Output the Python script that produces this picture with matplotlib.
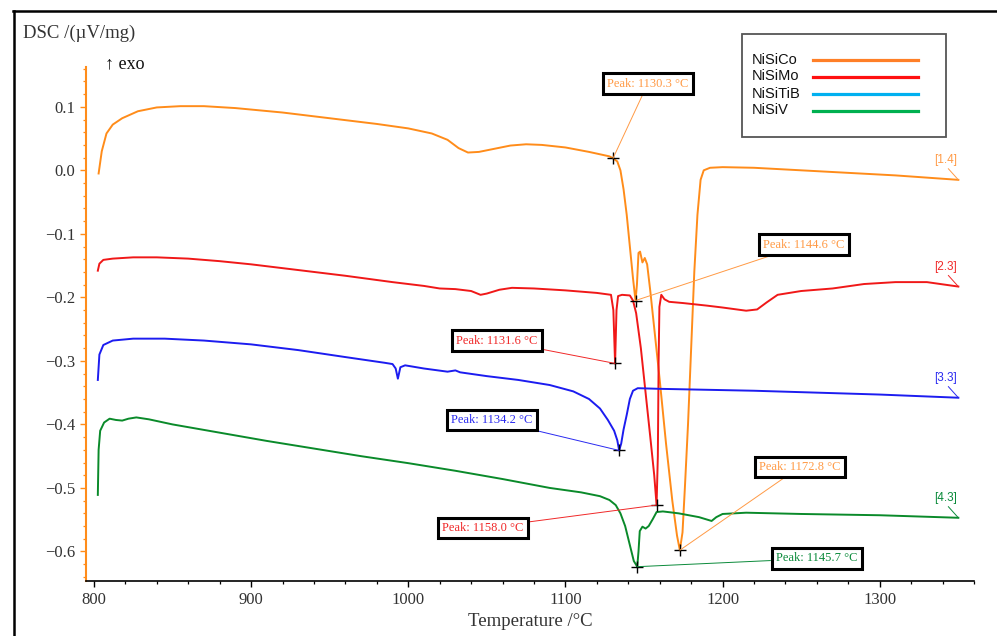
import numpy as np
import matplotlib
matplotlib.use("Agg")
import matplotlib.pyplot as plt
from matplotlib.lines import Line2D
from matplotlib.patches import Rectangle
from matplotlib.ticker import MultipleLocator, FuncFormatter

# NiSiCo
co_t = [803, 805, 808, 812, 818, 828, 840, 855, 870, 890, 920, 950, 980, 1000, 1015, 1025,
        1032, 1038, 1045, 1055, 1065, 1075, 1085, 1100, 1115, 1128, 1130.3, 1133, 1135, 1137,
        1139, 1141, 1143, 1144.6, 1145.5, 1146.5, 1147.5, 1149, 1150.5, 1152, 1154, 1157, 1160,
        1164, 1168, 1171, 1172.8, 1174.5, 1176, 1178, 1180, 1182, 1184, 1186, 1188, 1192, 1200,
        1220, 1250, 1280, 1310, 1350]
co_v = [-0.005, 0.03, 0.058, 0.072, 0.082, 0.093, 0.099, 0.101, 0.101, 0.098, 0.091, 0.082,
        0.073, 0.066, 0.058, 0.048, 0.035, 0.028, 0.029, 0.034, 0.039, 0.041, 0.040, 0.036,
        0.029, 0.022, 0.019, 0.014, 0.0, -0.03, -0.07, -0.12, -0.17, -0.205, -0.18, -0.13,
        -0.128, -0.145, -0.138, -0.148, -0.19, -0.26, -0.33, -0.43, -0.52, -0.575, -0.598,
        -0.57, -0.50, -0.40, -0.28, -0.16, -0.07, -0.015, 0.0, 0.004, 0.005, 0.004, 0.0,
        -0.004, -0.008, -0.015]

# NiSiMo
mo_t = [802.5, 803.5, 806, 812, 825, 840, 860, 880, 900, 930, 960, 990, 1010, 1020, 1030,
        1040, 1046, 1050, 1058, 1066, 1080, 1100, 1120, 1129, 1130.5, 1131.6, 1132.5, 1133.5,
        1136, 1141, 1143, 1145, 1148, 1151, 1154, 1156.5, 1158.0, 1158.8, 1159.3, 1159.8,
        1161, 1163, 1166, 1175, 1190, 1200, 1215, 1222, 1228, 1235, 1250, 1270, 1290, 1310,
        1330, 1350]
mo_v = [-0.158, -0.147, -0.141, -0.139, -0.137, -0.137, -0.139, -0.143, -0.148, -0.157,
        -0.166, -0.176, -0.182, -0.186, -0.187, -0.190, -0.196, -0.194, -0.188, -0.185,
        -0.186, -0.189, -0.193, -0.196, -0.22, -0.304, -0.22, -0.198, -0.196, -0.197, -0.205,
        -0.225, -0.28, -0.35, -0.42, -0.48, -0.527, -0.45, -0.30, -0.215, -0.196, -0.203,
        -0.207, -0.209, -0.213, -0.216, -0.221, -0.219, -0.208, -0.196, -0.190, -0.186,
        -0.179, -0.176, -0.176, -0.183]

# NiSiTiB
tib_t = [802.5, 803.5, 806, 812, 825, 845, 870, 900, 930, 960, 985, 990, 992, 993.4, 995,
         998, 1010, 1025, 1030, 1033, 1050, 1070, 1090, 1105, 1115, 1122, 1127, 1131, 1133,
         1134.2, 1135.5, 1137, 1139, 1141, 1143, 1146, 1160, 1180, 1220, 1260, 1300, 1350]
tib_v = [-0.33, -0.29, -0.275, -0.268, -0.265, -0.265, -0.268, -0.274, -0.283, -0.294,
         -0.303, -0.305, -0.312, -0.328, -0.31, -0.307, -0.312, -0.317, -0.315, -0.318,
         -0.324, -0.330, -0.338, -0.348, -0.360, -0.375, -0.393, -0.41, -0.425, -0.441,
         -0.43, -0.408, -0.385, -0.36, -0.347, -0.343, -0.344, -0.345, -0.347, -0.350,
         -0.353, -0.358]

# NiSiV
v_t = [802.5, 803, 804, 806.5, 810, 814, 818, 822, 827, 835, 850, 880, 910, 940, 970, 1000,
       1030, 1060, 1090, 1110, 1122, 1128, 1132, 1135, 1138, 1141, 1143.5, 1145.7, 1146.5,
       1147.3, 1149, 1151, 1153, 1155.6, 1158, 1162, 1172, 1185, 1193, 1196, 1200, 1215,
       1250, 1300, 1350]
v_v = [-0.511, -0.44, -0.41, -0.397, -0.391, -0.393, -0.394, -0.391, -0.389, -0.392, -0.400,
       -0.413, -0.426, -0.438, -0.450, -0.461, -0.473, -0.486, -0.500, -0.507, -0.513,
       -0.519, -0.527, -0.540, -0.560, -0.59, -0.615, -0.624, -0.60, -0.568, -0.561, -0.564,
       -0.560, -0.549, -0.538, -0.537, -0.540, -0.546, -0.552, -0.546, -0.541, -0.539,
       -0.541, -0.543, -0.547]

names = ["NiSiCo", "NiSiMo", "NiSiTiB", "NiSiV"]
end_tags = ["[1.4]", "[2.3]", "[3.3]", "[4.3]"]
curve_colors = ["#ff8c1a", "#f01818", "#1c1cf0", "#0a8a2a"]
text_colors = ["#ff9a45", "#f02828", "#2a2af0", "#0a8a3a"]
legend_colors = ["#ff7f27", "#ff1010", "#00b0f0", "#00b050"]

peak_t = [1130.3, 1144.6, 1131.6, 1134.2, 1158.0, 1172.8, 1145.7]
peak_v = [0.019, -0.205, -0.304, -0.441, -0.527, -0.598, -0.624]
peak_series = [0, 0, 1, 2, 1, 0, 3]
peak_label_xy = [(1152.4, 0.1365), (1251.7, -0.117), (1056.4, -0.268), (1053.2, -0.393),
                 (1047.5, -0.563), (1249.1, -0.467), (1259.9, -0.611)]

serif = ["Liberation Serif", "DejaVu Serif"]

fig = plt.figure(figsize=(9.97, 6.36), dpi=100)
ax = fig.add_axes([0.0863, 0.087, 0.8907, 0.808])

series = [(co_t, co_v), (mo_t, mo_v), (tib_t, tib_v), (v_t, v_v)]
for (t, v), c in zip(series, curve_colors):
    ax.plot(t, v, color=c, lw=1.4, solid_joinstyle="round")

# peak markers and labels
ax.plot(peak_t, peak_v, "+", color="black", ms=9, mew=1.0, zorder=5)
for t, v, s, xy in zip(peak_t, peak_v, peak_series, peak_label_xy):
    ax.annotate("Peak: %.1f °C" % t, xy=(t, v), xytext=xy, textcoords="data",
                ha="center", va="center", fontsize=9, family=serif,
                color=text_colors[s],
                bbox=dict(boxstyle="square,pad=0.35", fc="white", ec="black", lw=2.2),
                arrowprops=dict(arrowstyle="-", color=text_colors[s], lw=0.7,
                                shrinkA=0, shrinkB=0), zorder=6)

# end tags
for (t, v), tag, c in zip(series, end_tags, text_colors):
    ax.annotate(tag, xy=(t[-1], v[-1]), xytext=(1342, v[-1] + 0.022), textcoords="data",
                ha="center", va="bottom", fontsize=8.5, color=c, family=["Liberation Sans"],
                arrowprops=dict(arrowstyle="-", color=c, lw=0.7, shrinkA=0, shrinkB=0,
                                relpos=(0.5, 0.0)))

ax.set_xlim(795, 1360)
ax.set_ylim(-0.646, 0.163)

ax.xaxis.set_major_locator(MultipleLocator(100))
ax.xaxis.set_minor_locator(MultipleLocator(20))
ax.yaxis.set_major_locator(MultipleLocator(0.1))
ax.yaxis.set_minor_locator(MultipleLocator(0.02))
ax.yaxis.set_major_formatter(FuncFormatter(lambda y, p: ("%.1f" % y).replace("-", "\u2212")))

for sp in ["top", "right"]:
    ax.spines[sp].set_visible(False)
ax.spines["left"].set_color(curve_colors[0])
ax.spines["left"].set_linewidth(1.5)
ax.spines["bottom"].set_linewidth(1.2)

ax.tick_params(axis="y", which="both", color=curve_colors[0], labelcolor="#333333",
               labelsize=12, pad=3)
ax.tick_params(axis="x", which="both", color="black", labelcolor="#333333", labelsize=12)
ax.tick_params(which="major", length=4.5, width=1.0)
ax.tick_params(which="minor", length=2.5, width=0.9)
for lab in ax.get_xticklabels() + ax.get_yticklabels():
    lab.set_family(serif)

ax.set_xlabel("Temperature /°C", fontsize=13.5, family=serif, color="#333333", labelpad=4)

fig.text(0.0228, 1 - 33.5 / 636, "DSC /(µV/mg)", fontsize=13.5, family=serif,
         color="#333333", va="center", ha="left")
fig.text(0.105, 1 - 63.5 / 636, "↑ exo", fontsize=13, family=serif, color="#111111",
         va="center", ha="left")

# legend box
W, H = 997.0, 636.0
fig.add_artist(Rectangle((742 / W, 1 - 137 / H), (946 - 742) / W, (137 - 33.5) / H,
                         transform=fig.transFigure, fill=False, ec="#555555", lw=1.3))
for i, (nm, lc) in enumerate(zip(names, legend_colors)):
    yy = 1 - (59.5 + 17 * i) / H
    fig.text(752 / W, yy, nm, fontsize=10.5, family=["Liberation Sans"], color="#111111",
             va="center", ha="left")
    fig.add_artist(Line2D([813 / W, 918 / W], [yy, yy], transform=fig.transFigure,
                          color=lc, lw=2.3))

# outer frame
fig.add_artist(Line2D([13.5 / W, 13.5 / W], [0, 1 - 10.5 / H], transform=fig.transFigure,
                      color="black", lw=1.8))
fig.add_artist(Line2D([12.5 / W, 1.0], [1 - 10.5 / H, 1 - 10.5 / H],
                      transform=fig.transFigure, color="black", lw=1.8))

fig.savefig("out.png", dpi=100)
